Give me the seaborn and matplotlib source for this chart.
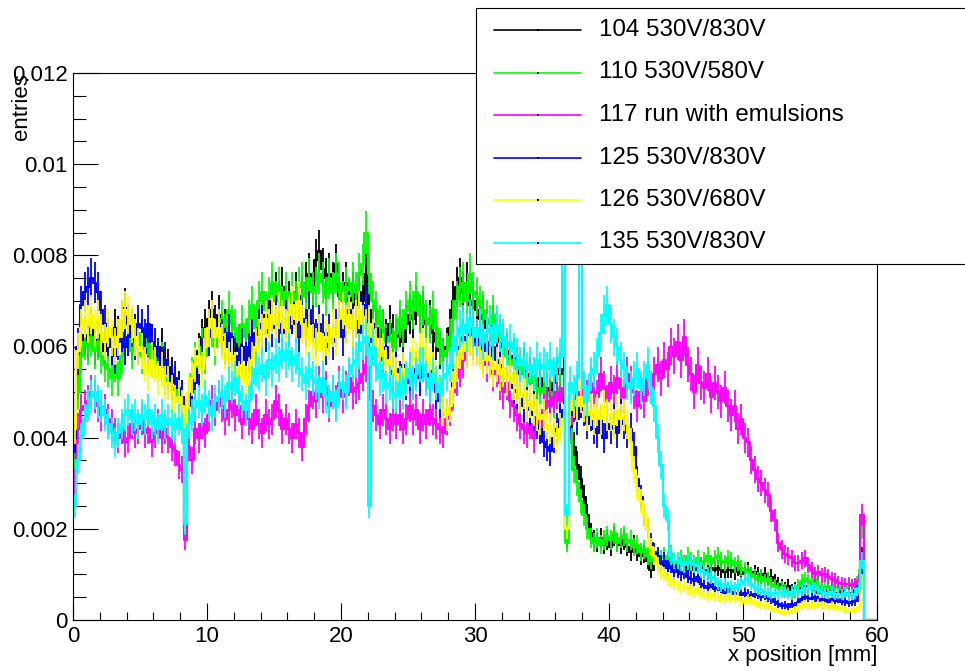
import numpy as np
import pandas as pd
import matplotlib
matplotlib.use("Agg")
import matplotlib.pyplot as plt
from matplotlib.patches import Rectangle
from matplotlib.lines import Line2D
from matplotlib.ticker import MultipleLocator, FuncFormatter
import seaborn as sns

# Histogram binning (mm) and normalisation
BIN_WIDTH = 0.25
X_MIN, X_MAX = 0.0, 60.0
Y_MIN, Y_MAX = 0.0, 0.012
SCALE = 1e-5          # bin contents are stored in units of 1e-5
ENTRIES = 37500       # effective entries used for the Poisson error bars

run_labels = ["104 530V/830V", "110 530V/580V", "117 run with emulsions",
              "125 530V/830V", "126 530V/680V", "135 530V/830V"]
run_colors = ["#000000", "#00ff00", "#ff00ff", "#0000ff", "#ffff00", "#00ffff"]

# Normalised bin contents, 4 bins per mm, 0 .. 60 mm
run104 = [
    380, 520, 600, 625, 610, 640, 600, 615, 630, 590, 615, 600, 640, 625, 660, 685, 650, 610, 630, 600,
    620, 600, 585, 610, 590, 570, 600, 560, 555, 540, 520, 510, 490, 200, 470, 520, 560, 590, 620, 640,
    660, 680, 650, 670, 630, 640, 600, 620, 590, 610, 580, 600, 570, 600, 630, 650, 640, 670, 660, 700,
    720, 700, 730, 690, 700, 670, 720, 690, 710, 740, 760, 720, 790, 810, 770, 750, 760, 740, 780, 710,
    720, 740, 700, 720, 690, 720, 700, 760, 680, 650, 640, 620, 640, 620, 650, 630, 620, 640, 610, 650,
    670, 660, 690, 670, 680, 650, 660, 630, 610, 590, 580, 600, 640, 700, 730, 750, 720, 740, 690, 700,
    680, 660, 670, 640, 640, 650, 610, 620, 600, 590, 570, 580, 560, 540, 560, 530, 540, 520, 510, 530,
    500, 510, 490, 520, 540, 550, 540, 180, 440, 380, 340, 310, 270, 230, 190, 175, 170, 180, 165, 175,
    160, 185, 170, 165, 175, 160, 150, 165, 150, 140, 145, 130, 110, 125, 130, 120, 125, 115, 130, 120,
    115, 125, 120, 110, 120, 110, 115, 120, 110, 105, 115, 110, 115, 110, 105, 110, 110, 105, 115, 100,
    105, 110, 100, 105, 100, 95, 100, 90, 95, 85, 80, 75, 70, 75, 65, 70, 65, 70, 75, 70,
    70, 65, 60, 65, 60, 65, 70, 60, 60, 65, 60, 55, 60, 65, 80, 140, 0, 0, 0, 0,
]
run110 = [
    350, 500, 580, 610, 600, 620, 590, 610, 580, 560, 550, 530, 560, 530, 580, 600, 620, 590, 610, 630,
    580, 600, 620, 570, 590, 560, 570, 530, 520, 500, 510, 490, 480, 210, 490, 540, 570, 550, 600, 580,
    620, 640, 600, 650, 660, 630, 680, 650, 640, 610, 650, 620, 660, 690, 640, 700, 720, 680, 710, 740,
    700, 730, 690, 720, 680, 720, 700, 730, 740, 710, 750, 720, 730, 760, 740, 710, 750, 720, 760, 740,
    700, 730, 710, 740, 720, 760, 780, 850, 760, 700, 680, 650, 640, 610, 620, 600, 630, 660, 640, 680,
    700, 680, 720, 670, 690, 660, 650, 680, 640, 600, 580, 590, 620, 660, 700, 730, 740, 700, 760, 720,
    710, 690, 680, 660, 650, 670, 640, 620, 610, 580, 560, 570, 550, 560, 540, 530, 520, 540, 510, 500,
    510, 490, 500, 480, 500, 510, 490, 170, 420, 330, 300, 260, 230, 200, 180, 170, 180, 165, 175, 185,
    175, 190, 170, 180, 185, 170, 175, 160, 165, 150, 155, 140, 130, 140, 125, 135, 140, 130, 145, 125,
    130, 135, 125, 140, 130, 125, 135, 120, 130, 140, 125, 135, 140, 130, 125, 135, 130, 120, 125, 115,
    110, 105, 100, 95, 90, 95, 85, 90, 80, 75, 70, 72, 65, 60, 55, 62, 75, 85, 90, 85,
    80, 90, 75, 70, 72, 68, 75, 70, 72, 68, 70, 74, 75, 78, 95, 200, 0, 0, 0, 0,
]
run117 = [
    300, 420, 460, 470, 480, 500, 490, 470, 450, 460, 440, 430, 410, 400, 420, 390, 400, 430, 410, 420,
    440, 410, 420, 390, 410, 430, 400, 420, 400, 380, 370, 340, 330, 175, 380, 350, 420, 400, 430, 410,
    450, 480, 460, 490, 470, 440, 460, 480, 450, 470, 430, 460, 440, 420, 460, 430, 410, 450, 430, 440,
    480, 460, 420, 440, 420, 400, 430, 410, 380, 440, 470, 500, 480, 520, 490, 510, 470, 500, 480, 520,
    490, 510, 530, 500, 510, 520, 540, 560, 520, 470, 450, 430, 460, 440, 420, 450, 430, 450, 420, 440,
    470, 440, 460, 420, 450, 430, 460, 440, 430, 420, 410, 440, 460, 500, 530, 550, 570, 590, 620, 640,
    600, 620, 580, 560, 570, 540, 550, 520, 500, 520, 480, 470, 450, 430, 420, 410, 430, 400, 440, 420,
    460, 480, 470, 490, 500, 480, 510, 220, 430, 470, 500, 480, 510, 490, 520, 500, 490, 540, 510, 480,
    520, 500, 530, 510, 490, 540, 520, 500, 470, 500, 480, 530, 510, 540, 560, 530, 570, 550, 600, 580,
    610, 570, 620, 560, 540, 500, 560, 520, 510, 540, 490, 520, 500, 480, 510, 470, 450, 470, 420, 440,
    400, 390, 350, 330, 310, 300, 285, 275, 240, 220, 170, 155, 145, 140, 135, 125, 125, 130, 135, 120,
    110, 100, 105, 98, 100, 95, 90, 88, 82, 80, 78, 80, 76, 78, 85, 230, 0, 0, 0, 0,
]
run125 = [
    400, 600, 690, 720, 730, 750, 740, 720, 680, 650, 620, 600, 580, 610, 630, 600, 620, 640, 610, 650,
    640, 620, 650, 610, 600, 580, 560, 570, 540, 520, 530, 510, 490, 210, 480, 500, 520, 550, 580, 600,
    620, 660, 640, 650, 620, 600, 630, 590, 580, 560, 600, 570, 590, 620, 600, 640, 650, 630, 660, 640,
    670, 650, 630, 660, 640, 670, 650, 620, 660, 640, 680, 650, 620, 650, 630, 600, 630, 610, 640, 660,
    620, 650, 680, 640, 660, 630, 670, 690, 640, 610, 590, 580, 570, 600, 560, 540, 550, 530, 560, 520,
    540, 520, 550, 530, 560, 540, 520, 550, 500, 480, 460, 450, 470, 520, 560, 600, 620, 600, 640, 610,
    620, 600, 590, 610, 580, 600, 570, 560, 550, 530, 540, 510, 500, 490, 470, 480, 460, 450, 430, 420,
    390, 380, 370, 400, 420, 440, 460, 200, 450, 470, 440, 480, 460, 430, 450, 420, 410, 440, 400, 430,
    420, 440, 410, 450, 430, 410, 420, 380, 310, 270, 230, 200, 170, 150, 140, 125, 130, 115, 120, 105,
    110, 100, 105, 95, 90, 85, 95, 80, 75, 70, 78, 68, 70, 65, 60, 68, 62, 58, 60, 55,
    60, 55, 52, 58, 55, 50, 52, 48, 45, 40, 35, 30, 32, 28, 35, 30, 40, 45, 50, 48,
    45, 50, 42, 46, 44, 40, 46, 42, 45, 40, 42, 38, 40, 42, 50, 100, 0, 0, 0, 0,
]
run126 = [
    420, 590, 640, 660, 650, 670, 640, 660, 630, 610, 640, 620, 600, 620, 660, 680, 670, 650, 620, 600,
    590, 560, 540, 570, 560, 530, 550, 520, 520, 500, 480, 490, 470, 215, 500, 530, 560, 580, 550, 600,
    640, 660, 620, 640, 610, 590, 570, 580, 550, 530, 560, 520, 540, 570, 600, 620, 630, 660, 640, 670,
    650, 680, 660, 640, 670, 690, 660, 700, 650, 620, 640, 610, 600, 630, 590, 620, 610, 640, 620, 660,
    680, 650, 670, 640, 660, 680, 650, 640, 650, 620, 600, 580, 590, 560, 570, 550, 540, 520, 550, 530,
    560, 580, 570, 590, 600, 580, 560, 550, 530, 500, 460, 450, 470, 510, 560, 590, 610, 590, 620, 600,
    600, 590, 570, 580, 570, 550, 560, 540, 550, 530, 540, 520, 510, 490, 500, 470, 480, 460, 450, 440,
    450, 430, 420, 410, 400, 420, 440, 200, 460, 480, 470, 490, 470, 450, 460, 440, 460, 440, 470, 450,
    450, 430, 460, 440, 450, 430, 390, 330, 290, 260, 230, 200, 160, 140, 120, 105, 100, 90, 85, 80,
    78, 72, 75, 68, 65, 62, 68, 58, 55, 52, 58, 50, 52, 48, 45, 50, 48, 45, 50, 42,
    40, 45, 42, 38, 36, 32, 34, 30, 25, 22, 20, 18, 18, 15, 20, 22, 28, 32, 35, 30,
    34, 30, 36, 32, 30, 28, 32, 26, 28, 25, 22, 20, 22, 20, 28, 85, 0, 0, 0, 0,
]
run135 = [
    250, 350, 400, 440, 470, 490, 500, 480, 470, 450, 430, 410, 390, 410, 430, 450, 460, 440, 450, 430,
    450, 440, 460, 430, 440, 420, 450, 430, 440, 430, 420, 440, 420, 210, 430, 450, 470, 480, 460, 490,
    470, 450, 480, 490, 500, 480, 520, 510, 530, 500, 480, 460, 480, 520, 550, 540, 560, 530, 570, 550,
    580, 560, 590, 570, 590, 560, 580, 550, 540, 520, 550, 530, 520, 500, 530, 490, 480, 500, 470, 510,
    520, 500, 540, 560, 570, 590, 610, 620, 250, 600, 560, 530, 540, 510, 520, 500, 490, 520, 500, 530,
    550, 520, 540, 560, 560, 530, 510, 540, 520, 500, 530, 540, 560, 590, 620, 640, 650, 630, 660, 640,
    620, 640, 610, 630, 640, 610, 650, 630, 620, 600, 610, 590, 580, 560, 570, 550, 560, 540, 570, 550,
    560, 550, 570, 540, 560, 580, 3000, 230, 520, 500, 530, 3000, 510, 480, 540, 550, 580, 630, 670, 690,
    650, 620, 600, 570, 550, 520, 510, 530, 550, 510, 530, 560, 510, 470, 400, 340, 250, 220, 140, 130,
    130, 125, 120, 128, 125, 120, 118, 110, 105, 100, 95, 90, 80, 75, 78, 72, 74, 70, 76, 80,
    85, 90, 80, 72, 68, 65, 62, 60, 58, 60, 56, 62, 60, 58, 62, 65, 62, 66, 70, 68,
    72, 68, 65, 62, 60, 58, 62, 56, 58, 55, 60, 54, 56, 58, 70, 130, 0, 0, 0, 0,
]
run_contents = [run104, run110, run117, run125, run126, run135]

sns.set_theme(style="ticks")
plt.rcParams["font.family"] = ["Liberation Sans", "DejaVu Sans"]

W, H = 965, 671
fig = plt.figure(figsize=(W / 100, H / 100), dpi=100)
fig.patch.set_facecolor("white")
ax = fig.add_axes([73 / W, 51 / H, 804 / W, 547 / H])
ax.set_facecolor("white")

edges = np.arange(X_MIN, X_MAX + BIN_WIDTH / 2, BIN_WIDTH)
centers = edges[:-1] + BIN_WIDTH / 2

for label, color, counts in zip(run_labels, run_colors, run_contents):
    h = np.asarray(counts, dtype=float) * SCALE
    df = pd.DataFrame({"x": edges, "entries": np.append(h, h[-1])})
    sns.lineplot(data=df, x="x", y="entries", color=color, drawstyle="steps-post",
                 estimator=None, sort=False, lw=1.5, ax=ax, legend=False)
    err = np.sqrt(h / ENTRIES)
    ax.errorbar(centers, h, yerr=err, fmt="none", ecolor=color, elinewidth=1.3)

ax.set_xlim(X_MIN, X_MAX)
ax.set_ylim(Y_MIN, Y_MAX)

fmt = FuncFormatter(lambda v, p: f"{v:g}")
ax.xaxis.set_major_locator(MultipleLocator(10))
ax.xaxis.set_minor_locator(MultipleLocator(2))
ax.yaxis.set_major_locator(MultipleLocator(0.002))
ax.yaxis.set_minor_locator(MultipleLocator(0.0005))
ax.xaxis.set_major_formatter(fmt)
ax.yaxis.set_major_formatter(fmt)

ax.tick_params(axis="both", which="both", direction="in", top=False, right=False,
               color="black", width=0.8, labelsize=16, labelcolor="black")
ax.tick_params(axis="y", which="major", length=18, pad=4)
ax.tick_params(axis="y", which="minor", length=9.5)
ax.tick_params(axis="x", which="major", length=12.3, pad=4)
ax.tick_params(axis="x", which="minor", length=6)

for side in ["left", "right", "top", "bottom"]:
    ax.spines[side].set_visible(True)
    ax.spines[side].set_color("black")
    ax.spines[side].set_linewidth(0.8)

ax.set_xlabel("x position [mm]", loc="right", fontsize=16, color="black")
ax.xaxis.set_label_coords(1.0, -0.045)
ax.set_ylabel("entries", loc="top", fontsize=16, color="black")
ax.yaxis.set_label_coords(-0.051, 1.0)


def fx(px):
    return px / W


def fy(py):
    return 1 - py / H


# Legend box, drawn in figure pixel space
fig.add_artist(Rectangle((fx(476), fy(264)), fx(1200) - fx(476), fy(8) - fy(264),
                         transform=fig.transFigure, facecolor="white",
                         edgecolor="black", lw=0.8, zorder=5))
row_y = [30, 72.5, 115, 157.5, 200, 242.5]
for y, label, color in zip(row_y, run_labels, run_colors):
    fig.add_artist(Line2D([fx(494), fx(581)], [fy(y), fy(y)], color=color, lw=1.2,
                          transform=fig.transFigure, zorder=6))
    fig.add_artist(Line2D([fx(537.5)], [fy(y)], marker="s", ms=1.5, mew=0,
                          color="black", transform=fig.transFigure, zorder=7))
    fig.text(fx(599), fy(y), label, fontsize=17.4, ha="left", va="center",
             color="black", zorder=7)

fig.savefig("out.png", dpi=100, facecolor="white")
